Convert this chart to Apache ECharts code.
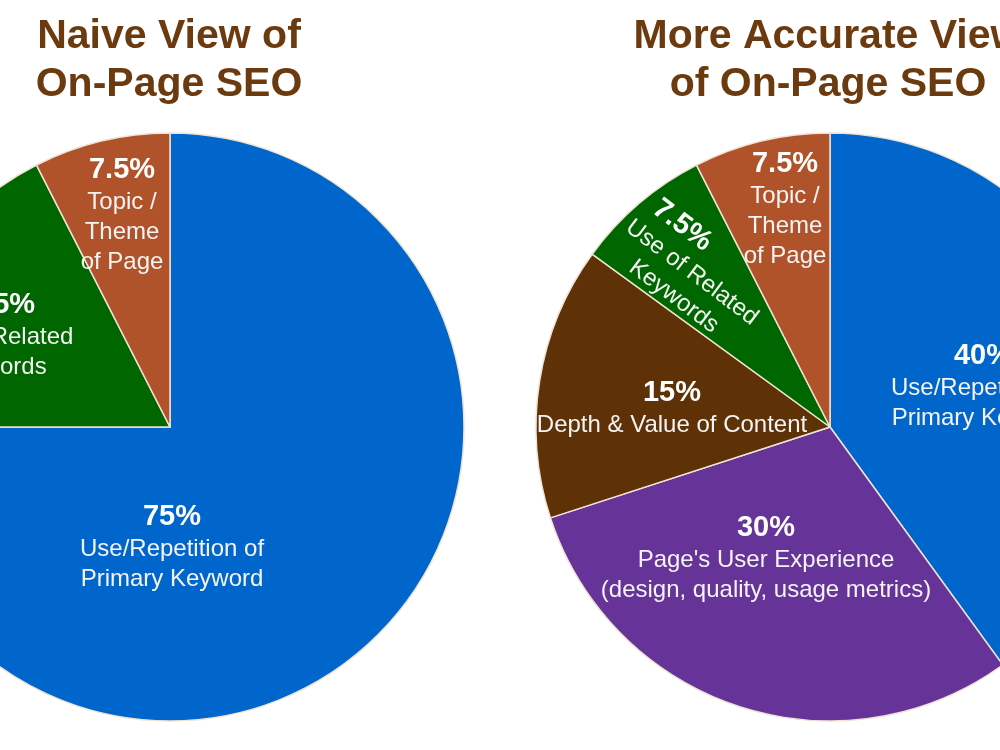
<!DOCTYPE html>
<html style="height: 100%">
<head>
    <meta charset="utf-8">
    <title>On-Page SEO</title>
    <script src="https://cdn.jsdelivr.net/npm/echarts@6/dist/echarts.min.js"></script>
</head>
<body style="height: 100%; margin: 0; background: #fff">
    <div id="container" style="width: 1000px; height: 750px"></div>
    <script type="text/javascript">
        // data
        var naiveNames = ['Use/Repetition of\nPrimary Keyword', 'Use of Related\nKeywords', 'Topic /\nTheme\nof Page'];
        var naiveValues = [75, 17.5, 7.5];
        var naiveColors = ['#0066cc', '#006600', '#b0532a'];

        var accurateNames = ['Use/Repetition of\nPrimary Keyword', "Page's User Experience\n(design, quality, usage metrics)", 'Depth & Value of Content', 'Use of Related\nKeywords', 'Topic /\nTheme\nof Page'];
        var accurateValues = [40, 30, 15, 7.5, 7.5];
        var accurateColors = ['#0066cc', '#663399', '#5e3106', '#006600', '#b0532a'];

        // where each label block sits (center x, center y, rotation)
        var labelPos = [
            [[172, 547, 0], [-6, 335, 0], [122, 215, 0]],
            [[983, 386, 0], [766, 558, 0], [672, 408, 0], [693, 271, -37], [785, 209, 0]]
        ];

        var pctStyle = { fontFamily: 'Liberation Sans', fontWeight: 'bold', fontSize: 29, lineHeight: 34, color: '#fff', align: 'center' };
        var txtStyle = { fontFamily: 'Liberation Sans', fontSize: 24, lineHeight: 30, color: '#f4f4f4', align: 'center' };

        function makeData(names, values, colors) {
            var arr = [];
            for (var i = 0; i < names.length; i++) {
                arr.push({ name: names[i], value: values[i], itemStyle: { color: colors[i] } });
            }
            return arr;
        }

        function fmt(params) {
            var lines = params.name.split('\n').map(function (s) { return '{t|' + s + '}'; });
            return '{p|' + params.value + '%}\n' + lines.join('\n');
        }

        function layoutFor(seriesIdx) {
            return function (params) {
                var p = labelPos[seriesIdx][params.dataIndex];
                return { x: p[0], y: p[1], rotate: p[2], align: 'center', verticalAlign: 'middle', hideOverlap: false };
            };
        }

        var pieLabel = {
            show: true,
            position: 'inside',
            formatter: fmt,
            color: '#fff',
            rich: { p: pctStyle, t: txtStyle }
        };

        var accurateData = makeData(accurateNames, accurateValues, accurateColors);
        // the tilted label's percentage sits a bit back along the line
        accurateData[3].label = {
            rich: { p: Object.assign({}, pctStyle, { padding: [0, 72, 0, 0] }), t: txtStyle }
        };

        var myChart = echarts.init(document.getElementById('container'));

        var option = {
            backgroundColor: '#fff',
            animation: false,
            title: [{
                text: 'Naive View of\nOn-Page SEO',
                left: 164,
                top: 8,
                textAlign: 'center',
                textStyle: { fontFamily: 'Liberation Sans', fontWeight: 'bold', fontSize: 41, lineHeight: 48, color: '#6b3a0f' }
            }, {
                text: 'More Accurate View\nof On-Page SEO',
                left: 823,
                top: 8,
                textAlign: 'center',
                textStyle: { fontFamily: 'Liberation Sans', fontWeight: 'bold', fontSize: 41, lineHeight: 48, color: '#6b3a0f' }
            }],
            series: [{
                type: 'pie',
                center: [170, 427],
                radius: [0, 294],
                startAngle: 90,
                clockwise: true,
                avoidLabelOverlap: false,
                label: pieLabel,
                labelLine: { show: false },
                labelLayout: layoutFor(0),
                itemStyle: { borderColor: '#efe3d3', borderWidth: 1.5 },
                emphasis: { disabled: true },
                data: makeData(naiveNames, naiveValues, naiveColors)
            }, {
                type: 'pie',
                center: [830, 427],
                radius: [0, 294],
                startAngle: 90,
                clockwise: true,
                avoidLabelOverlap: false,
                label: pieLabel,
                labelLine: { show: false },
                labelLayout: layoutFor(1),
                itemStyle: { borderColor: '#efe3d3', borderWidth: 1.5 },
                emphasis: { disabled: true },
                data: accurateData
            }]
        };

        myChart.setOption(option);
    </script>
</body>
</html>
